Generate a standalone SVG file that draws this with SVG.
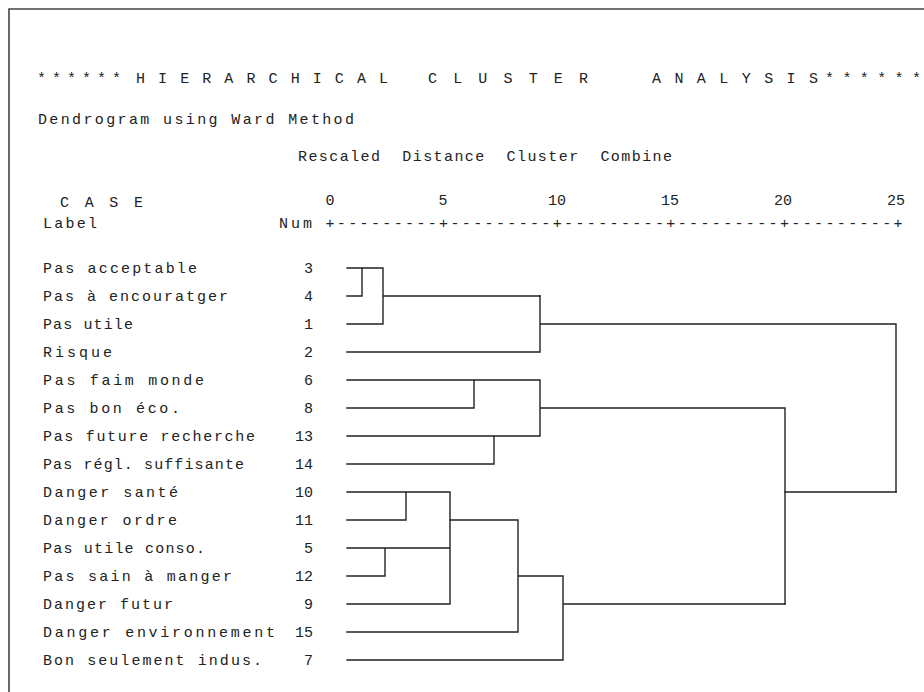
<svg xmlns="http://www.w3.org/2000/svg" width="924" height="692" viewBox="0 0 924 692">
<style>
text{font-family:"Liberation Mono","DejaVu Sans Mono",monospace;font-size:15px;fill:#222}
.n{text-anchor:end}
.axn{text-anchor:middle}
.pre{white-space:pre}
#connectors path{stroke:#222;stroke-width:1.4;fill:none;stroke-linecap:square}
</style>
<rect width="924" height="692" fill="#fff"/>
<path d="M9,692 V9 H924" stroke="#444" stroke-width="1.6" fill="none"/>
<g id="header">
<text x="37" y="83" textLength="84" lengthAdjust="spacing">******</text>
<text x="136" y="83" textLength="252" lengthAdjust="spacing">HIERARCHICAL</text>
<text x="428" y="83" textLength="160" lengthAdjust="spacing">CLUSTER</text>
<text x="652" y="83" textLength="166" lengthAdjust="spacing">ANALYSIS</text>
<text x="825" y="83" textLength="96" lengthAdjust="spacing">******</text>
<text x="38" y="124" textLength="316" lengthAdjust="spacing">Dendrogram using Ward Method</text>
<text class="pre" x="298" y="161" xml:space="preserve" textLength="374" lengthAdjust="spacing">Rescaled  Distance  Cluster  Combine</text>
<text x="60" y="207" textLength="83" lengthAdjust="spacing">C A S E</text>
<text x="43" y="228" textLength="54" lengthAdjust="spacing">Label</text>
<text x="279" y="228" textLength="33" lengthAdjust="spacing">Num</text>
</g>
<g id="axis">
<text class="axn" x="330" y="205">0</text>
<text class="axn" x="443" y="205">5</text>
<text class="axn" x="557" y="205">10</text>
<text class="axn" x="670" y="205">15</text>
<text class="axn" x="783" y="205">20</text>
<text class="axn" x="896" y="205">25</text>
<text x="325.5" y="228" style="letter-spacing:2.36px">+---------+---------+---------+---------+---------+</text>
</g>
<g id="leaf-3"><text x="43" y="273" textLength="154" lengthAdjust="spacing">Pas acceptable</text><text class="n" x="313" y="273">3</text></g>
<g id="leaf-4"><text x="43" y="301" textLength="185" lengthAdjust="spacing">Pas à encouratger</text><text class="n" x="313" y="301">4</text></g>
<g id="leaf-1"><text x="43" y="329" textLength="90" lengthAdjust="spacing">Pas utile</text><text class="n" x="313" y="329">1</text></g>
<g id="leaf-2"><text x="43" y="357" textLength="69" lengthAdjust="spacing">Risque</text><text class="n" x="313" y="357">2</text></g>
<g id="leaf-6"><text x="43" y="385" textLength="161" lengthAdjust="spacing">Pas faim monde</text><text class="n" x="313" y="385">6</text></g>
<g id="leaf-8"><text x="43" y="413" textLength="137" lengthAdjust="spacing">Pas bon éco.</text><text class="n" x="313" y="413">8</text></g>
<g id="leaf-13"><text x="43" y="441" textLength="212" lengthAdjust="spacing">Pas future recherche</text><text class="n" x="313" y="441">13</text></g>
<g id="leaf-14"><text x="43" y="469" textLength="201" lengthAdjust="spacing">Pas régl. suffisante</text><text class="n" x="313" y="469">14</text></g>
<g id="leaf-10"><text x="43" y="497" textLength="135" lengthAdjust="spacing">Danger santé</text><text class="n" x="313" y="497">10</text></g>
<g id="leaf-11"><text x="43" y="525" textLength="134" lengthAdjust="spacing">Danger ordre</text><text class="n" x="313" y="525">11</text></g>
<g id="leaf-5"><text x="43" y="553" textLength="162" lengthAdjust="spacing">Pas utile conso.</text><text class="n" x="313" y="553">5</text></g>
<g id="leaf-12"><text x="43" y="581" textLength="189" lengthAdjust="spacing">Pas sain à manger</text><text class="n" x="313" y="581">12</text></g>
<g id="leaf-9"><text x="43" y="609" textLength="130" lengthAdjust="spacing">Danger futur</text><text class="n" x="313" y="609">9</text></g>
<g id="leaf-15"><text x="43" y="637" textLength="232" lengthAdjust="spacing">Danger environnement</text><text class="n" x="313" y="637">15</text></g>
<g id="leaf-7"><text x="43" y="665" textLength="219" lengthAdjust="spacing">Bon seulement indus.</text><text class="n" x="313" y="665">7</text></g>
<g id="connectors">
<path d="M347,268 H383 M347,296 H362 V268 M383,268 V324 M347,324 H383 M383,296 H540"/>
<path d="M347,352 H540 M540,296 V352 M540,324 H896 V492"/>
<path d="M347,380 H540 M347,408 H474 V380 M347,436 H540 M347,464 H494 V436 M540,380 V436 M540,408 H785 V604"/>
<path d="M347,492 H450 M347,520 H406 V492 M347,548 H450 M347,576 H385 V548 M347,604 H450 M450,492 V604"/>
<path d="M450,520 H518 M347,632 H518 M518,520 V632 M518,576 H563 M347,660 H563 M563,576 V660 M563,604 H785 M785,492 H896"/>
</g>
</svg>
